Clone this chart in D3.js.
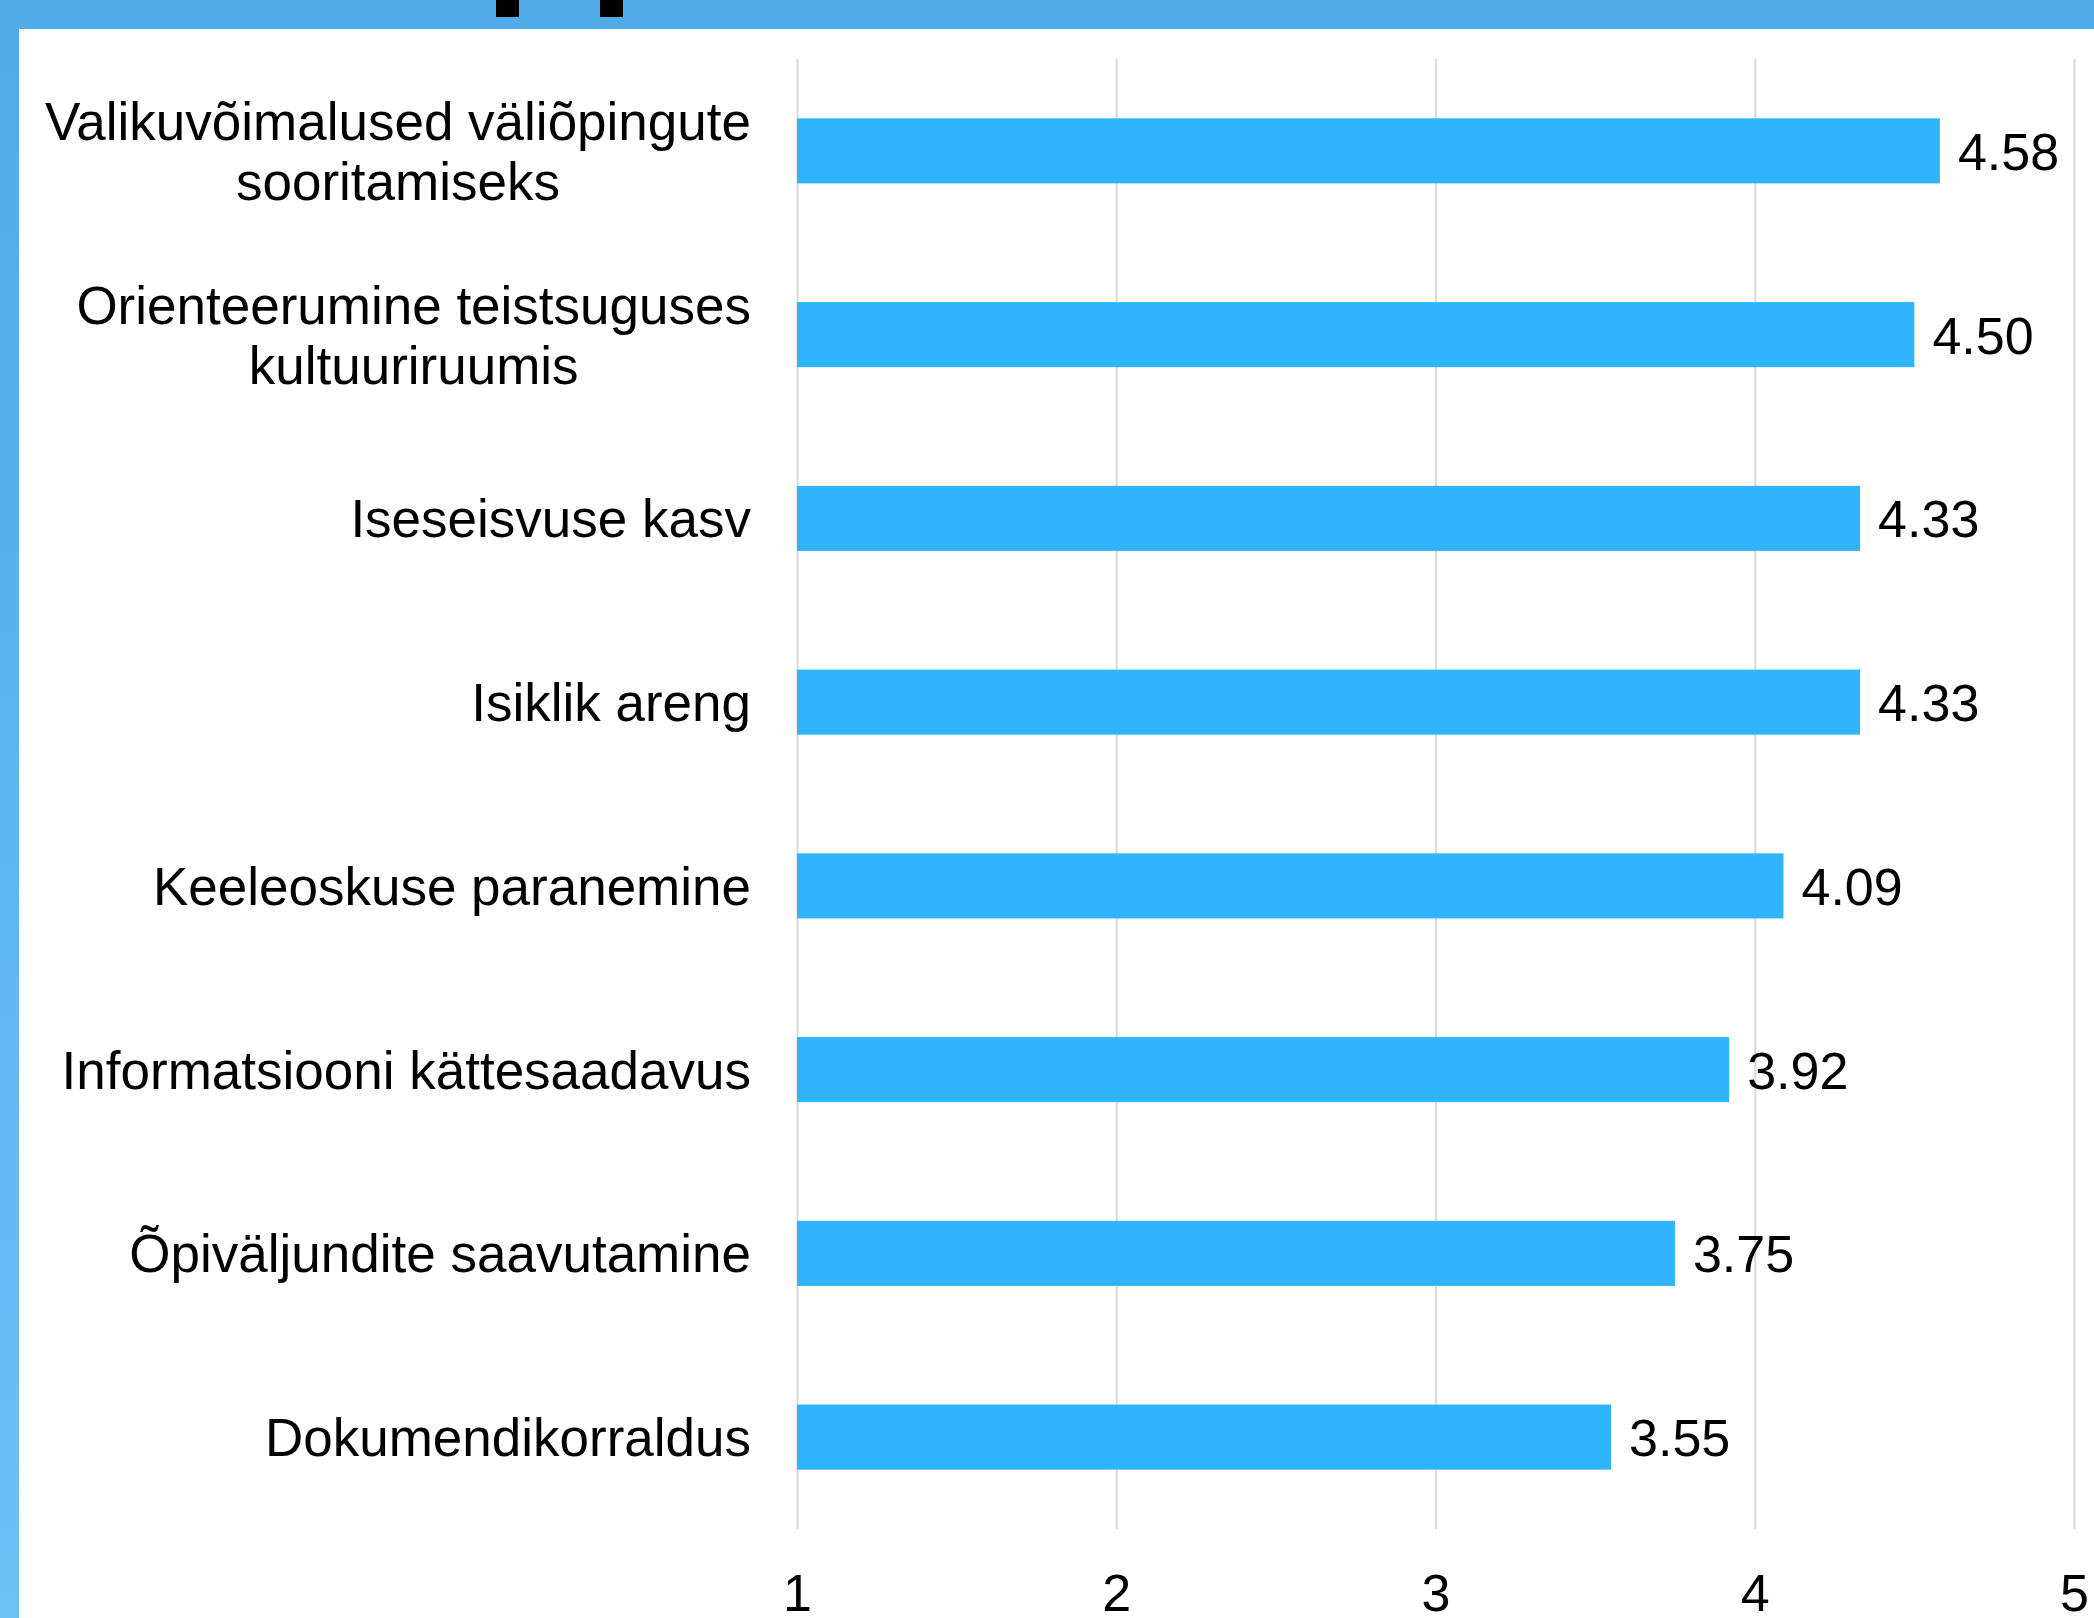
<!DOCTYPE html>
<html>
<head>
<meta charset="utf-8">
<script src="https://cdn.jsdelivr.net/npm/d3@7.9.0/dist/d3.min.js"></script>
<style>
  body { margin: 0; background: #fff; }
  svg { display: block; font-family: "Liberation Sans", Arial, sans-serif; }
</style>
</head>
<body>
<svg id="chart"></svg>
<script>
const categories = [
    "Valikuvõimalused väliõpingute sooritamiseks",
    "Orienteerumine teistsuguses kultuuriruumis",
    "Iseseisvuse kasv",
    "Isiklik areng",
    "Keeleoskuse paranemine",
    "Informatsiooni kättesaadavus",
    "Õpiväljundite saavutamine",
    "Dokumendikorraldus"
];
const labelLines = [
    ["Valikuvõimalused väliõpingute", "sooritamiseks"],
    ["Orienteerumine teistsuguses", "kultuuriruumis"],
    ["Iseseisvuse kasv"],
    ["Isiklik areng"],
    ["Keeleoskuse paranemine"],
    ["Informatsiooni kättesaadavus"],
    ["Õpiväljundite saavutamine"],
    ["Dokumendikorraldus"]
];
const values = [4.58, 4.50, 4.33, 4.33, 4.09, 3.92, 3.75, 3.55];
const xTicks = [1, 2, 3, 4, 5];

const W = 2094, H = 1618;
const plot = { left: 797, right: 2074, top: 59, bottom: 1529 };

const svg = d3.select("#chart")
    .attr("width", W)
    .attr("height", H);

svg.append("rect")
    .attr("width", W)
    .attr("height", H)
    .attr("fill", "#fff");

// slide frame: blue band on top, strip on the left
const grad = svg.append("defs").append("linearGradient")
    .attr("id", "strip")
    .attr("x1", 0).attr("y1", 0).attr("x2", 0).attr("y2", 1);
grad.append("stop").attr("offset", "0%").attr("stop-color", "#50aae8");
grad.append("stop").attr("offset", "100%").attr("stop-color", "#6cc1f5");

svg.append("rect")
    .attr("x", 0).attr("y", 0)
    .attr("width", 19).attr("height", H)
    .attr("fill", "url(#strip)");

svg.append("rect")
    .attr("x", 0).attr("y", 0)
    .attr("width", W).attr("height", 29)
    .attr("fill", "#50abe8");

// bits of a cut-off title poking into the band
svg.append("rect").attr("x", 496).attr("y", 0).attr("width", 23).attr("height", 17).attr("fill", "#000");
svg.append("rect").attr("x", 600).attr("y", 0).attr("width", 23).attr("height", 17).attr("fill", "#000");

const x = d3.scaleLinear()
    .domain([1, 5])
    .range([plot.left, plot.right]);

const y = d3.scaleBand()
    .domain(categories)
    .range([plot.top, plot.bottom])
    .paddingInner(0.646)
    .paddingOuter(0.323);

// x axis with gridlines
const xAxis = svg.append("g")
    .attr("transform", `translate(0, ${plot.bottom})`)
    .call(d3.axisBottom(x)
        .tickValues(xTicks)
        .tickFormat(d3.format("d"))
        .tickSizeInner(-(plot.bottom - plot.top))
        .tickSizeOuter(0)
        .tickPadding(45));

xAxis.select(".domain").remove();
xAxis.selectAll(".tick line")
    .attr("stroke", "#d9d9d9")
    .attr("stroke-width", 2);
xAxis.selectAll(".tick text")
    .attr("fill", "#000")
    .style("font-size", "52px")
    .style("font-family", "'Liberation Sans', Arial, sans-serif");

// bars
svg.selectAll("rect.bar")
    .data(values)
    .enter()
    .append("rect")
    .attr("class", "bar")
    .attr("x", x(1))
    .attr("y", (d, i) => y(categories[i]))
    .attr("width", d => x(d) - x(1))
    .attr("height", y.bandwidth())
    .attr("fill", "#31b4fe");

// value labels
svg.selectAll("text.value")
    .data(values)
    .enter()
    .append("text")
    .attr("class", "value")
    .attr("x", d => x(d) + 18)
    .attr("y", (d, i) => y(categories[i]) + y.bandwidth() / 2 + 19)
    .style("font-size", "52px")
    .attr("fill", "#000")
    .text(d => d.toFixed(2));

// category labels, each block right-aligned, lines centred inside it
const labelRight = 751;
const lineHeight = 60;
const fs = 53;

labelLines.forEach((lines, i) => {
    const cy = y(categories[i]) + y.bandwidth() / 2;
    const t = svg.append("text")
        .style("font-size", fs + "px")
        .attr("fill", "#000")
        .attr("text-anchor", "middle");
    const spans = lines.map((line, j) =>
        t.append("tspan")
            .attr("y", cy + (j - (lines.length - 1) / 2) * lineHeight + fs * 0.36)
            .text(line));
    const maxW = d3.max(spans, s => s.node().getComputedTextLength());
    spans.forEach(s => s.attr("x", labelRight - maxW / 2));
});
</script>
</body>
</html>
